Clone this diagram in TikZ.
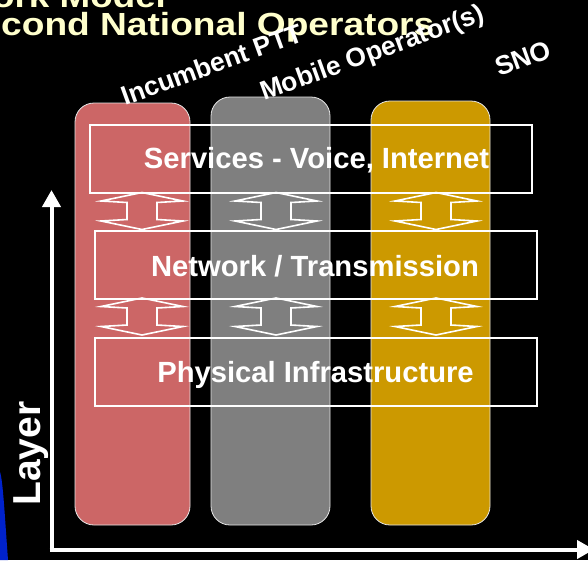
\documentclass[tikz,border=0pt]{standalone}
\usepackage{fontspec}
\setmainfont{Liberation Sans}
\usetikzlibrary{arrows.meta}
\definecolor{titleyellow}{HTML}{FFFFCC}
\definecolor{colred}{HTML}{CC6666}
\definecolor{colgray}{HTML}{7F7F7F}
\definecolor{colgold}{HTML}{CC9900}
\definecolor{edgegray}{HTML}{E6E6E6}
\definecolor{deepblue}{HTML}{0022CC}
\tikzset{
  column/.style={draw=edgegray, line width=0.8pt, rounded corners=19pt},
  layerbox/.style={draw=white, line width=1.5pt},
  layertext/.style={text=white, font=\bfseries\fontsize{29.2}{34}\selectfont, inner sep=0pt},
  collabel/.style={text=white, font=\bfseries\fontsize{26.5}{30}\selectfont, inner sep=0pt, rotate=20, anchor=base west},
  titletext/.style={text=titleyellow, font=\bfseries\fontsize{32}{36}\selectfont, inner sep=0pt, anchor=base west},
  axis/.style={draw=white, line width=4pt, -{Triangle[width=18pt,length=17pt]}},
  dblarrow/.pic={
    \draw[white, line width=1.6pt, line join=miter]
      (0,-18.5) -- (-41,-10) -- (-15,-8.5) -- (-15,8.5) -- (-41,10) -- (0,18.5)
      -- (41,10) -- (15,8.5) -- (15,-8.5) -- (41,-10) -- cycle;
  }
}
\begin{document}
\begin{tikzpicture}[x=1pt,y=-1pt]
\useasboundingbox[fill=black] (0,0) rectangle (588,560);
% blue fragment at bottom left
\fill[deepblue] (0,472) .. controls (3,480) and (5,520) .. (8,560) -- (0,560) -- cycle;
% title
\node[titletext] (t1) at (-8,7.5) {\scalebox{1.15}[1]{ork Model}};
\node[titletext] (t2) at (1,35) {\scalebox{1.16}[1]{cond National Operators}};
% columns
\draw[column, fill=colred] (75,103) rectangle (190,525);
\draw[column, fill=colgray] (211,97) rectangle (330,525);
\draw[column, fill=colgold] (371,101) rectangle (490,525);
% column labels
\node[collabel] (lab1) at (125,106) {Incumbent PTT};
\node[collabel] (lab2) at (264,101) {Mobile Operator(s)};
\node[collabel] (lab3) at (499,77) {SNO};
% layer boxes
\draw[layerbox] (90,125) rectangle (532,193);
\draw[layerbox] (95,231) rectangle (537,299);
\draw[layerbox] (95,338) rectangle (537,406);
\node[layertext, anchor=base] (s1) at (316.5,168) {Services - Voice, Internet};
\node[layertext, anchor=base] (s2) at (315,276) {Network / Transmission};
\node[layertext, anchor=base] (s3) at (315.5,382) {Physical Infrastructure};
% double arrows
\foreach \cx in {142,276,436}{
  \pic at (\cx,211) {dblarrow};
  \pic at (\cx,316.5) {dblarrow};
}
% axes
\coordinate (org) at (51.5,549.5);
\coordinate (ytip) at (51.5,190);
\coordinate (xtip) at (594,549.5);
\draw[axis] (51.5,547.5) -- (ytip);
\draw[axis] (49.5,549.5) -- (xtip);
% axis label
\node[text=white, font=\bfseries\fontsize{39}{44}\selectfont, inner sep=0pt, rotate=90, anchor=base west] (ylab) at (40.5,506) {Layer};
\end{tikzpicture}
\end{document}
